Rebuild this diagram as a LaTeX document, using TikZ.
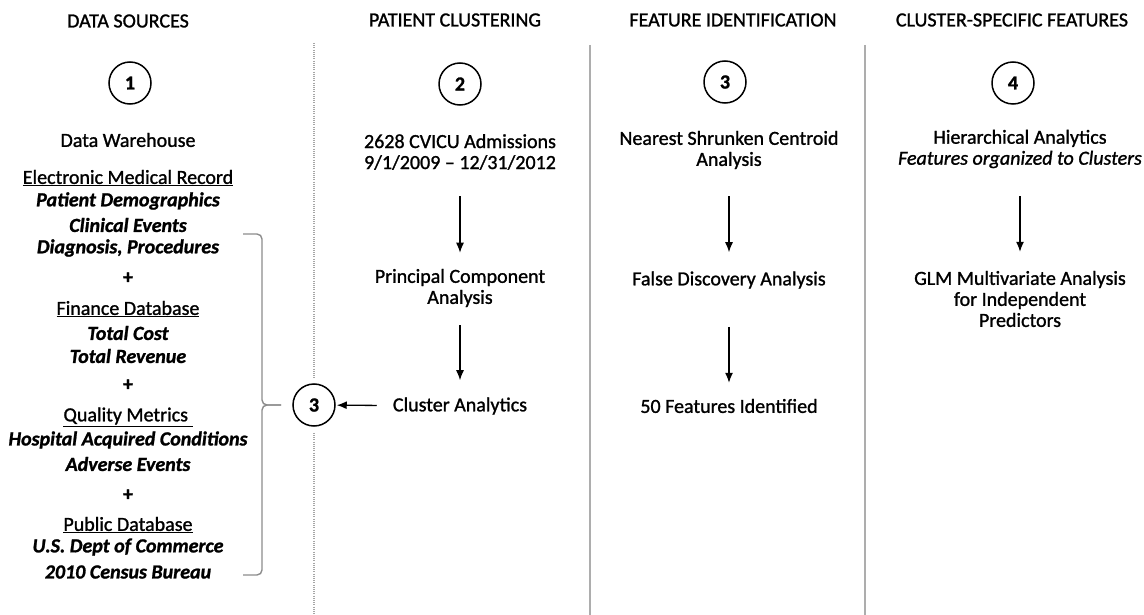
\documentclass[tikz,border=0pt]{standalone}
\usepackage{fontspec}
\setmainfont{Carlito}[FakeBold=1.2]
\usetikzlibrary{arrows.meta}

\begin{document}
\begin{tikzpicture}[x=1pt, y=-1pt, >={Latex[length=10pt, width=8pt]},
  headText/.style={inner sep=0pt, font=\fontsize{20}{21}\selectfont},
  bodyText/.style={inner sep=0pt, align=center, font=\fontsize{20}{21}\selectfont},
  srcItem/.style={inner sep=0pt, font=\fontsize{20}{21}\selectfont\bfseries\itshape},
  numCircle/.style={draw, circle, line width=1.5pt, minimum size=42pt, inner sep=0pt,
    font=\fontsize{20}{21}\selectfont\bfseries},
  flowArrow/.style={->, line width=1.3pt},
  divLine/.style={line width=1.6pt, black!32},
  braceLine/.style={line width=1.4pt, black!45, rounded corners=5pt}]

  \useasboundingbox (0,0) rectangle (1144,615);

  % --- 1. 列の x 座標 ---
  \def\colA{128}
  \def\colB{460}
  \def\colC{729}
  \def\colD{1020}

  % --- 2. 見出し ---
  \node[headText] (hA) at (\colA, 21) {DATA SOURCES};
  \node[headText] (hB) at (455, 20) {PATIENT CLUSTERING};
  \node[headText] (hC) at (733, 20) {FEATURE IDENTIFICATION};
  \node[headText] (hD) at (1012, 20) {CLUSTER-SPECIFIC FEATURES};

  % --- 3. 区切り線 ---
  \draw[divLine] (590, 45) -- (590, 615);
  \draw[divLine] (865, 45) -- (865, 615);

  % --- 4. 番号の丸 ---
  \node[numCircle] (nA) at (130, 83) {1};
  \node[numCircle] (nB) at (\colB, 84) {2};
  \node[numCircle] (nC) at (725, 82) {3};
  \node[numCircle] (nD) at (1013, 83) {4};

  % --- 5. データソース (列 1) ---
  \node[bodyText] (dw) at (\colA, 140) {Data Warehouse};
  \node[bodyText] (emr) at (\colA, 178) {\underline{Electronic Medical Record}};
  \node[srcItem] (emrA) at (\colA, 201) {Patient Demographics};
  \node[srcItem] (emrB) at (\colA, 225) {Clinical Events};
  \node[srcItem] (emrC) at (\colA, 248) {Diagnosis, Procedures};
  \node[bodyText] (plusA) at (\colA, 278) {\textbf{+}};
  \node[bodyText] (fin) at (\colA, 309) {\underline{Finance Database}};
  \node[srcItem] (finA) at (\colA, 333) {Total Cost};
  \node[srcItem] (finB) at (\colA, 356) {Total Revenue};
  \node[bodyText] (plusB) at (\colA, 385) {\textbf{+}};
  \node[bodyText] (qm) at (\colA, 417) {\underline{Quality Metrics\ }};
  \node[srcItem] (qmA) at (\colA, 440) {Hospital Acquired Conditions};
  \node[srcItem] (qmB) at (\colA, 464) {Adverse Events};
  \node[bodyText] (plusC) at (\colA, 495) {\textbf{+}};
  \node[bodyText] (pub) at (\colA, 525) {\underline{Public Database}};
  \node[srcItem] (pubA) at (\colA, 547) {U.S. Dept of Commerce};
  \node[srcItem] (pubB) at (\colA, 572) {2010 Census Bureau};

  % 括弧と丸 3
  \draw[braceLine] (243, 234) -- (262, 234) -- (262, 405) -- (281, 405);
  \draw[braceLine] (281, 405) -- (262, 405) -- (262, 575) -- (243, 575);
  \node[numCircle] (nBack) at (314, 405) {3};

  % 点線の区切り (丸 3 で途切れる)
  \coordinate (dotTop) at (314, 43);
  \coordinate (dotBot) at (314, 615);
  \draw[black!35, line width=1.2pt, dash pattern=on 1pt off 1.2pt, shorten >=4pt] (dotTop) -- (nBack);
  \draw[black!35, line width=1.2pt, dash pattern=on 1pt off 1.2pt, shorten <=6pt] (nBack) -- (dotBot);

  % --- 6. 患者クラスタリング (列 2) ---
  \node[bodyText] (adm) at (\colB, 152) {2628 CVICU Admissions\\9/1/2009 -- 12/31/2012};
  \node[bodyText] (pca) at (\colB, 288) {Principal Component\\Analysis};
  \node[bodyText] (clus) at (\colB, 406) {Cluster Analytics};
  \draw[flowArrow, shorten <=26pt, shorten >=16pt] (adm) -- (pca);
  \draw[flowArrow, shorten <=18pt, shorten >=17pt] (pca) -- (clus);
  \draw[flowArrow, shorten <=16pt, shorten >=1pt] (clus) -- (nBack);

  % --- 7. 特徴量の同定 (列 3) ---
  \node[bodyText] (nsc) at (\colC, 150) {Nearest Shrunken Centroid\\Analysis};
  \node[bodyText] (fda) at (\colC, 280) {False Discovery Analysis};
  \node[bodyText] (feat) at (\colC, 406) {50 Features Identified};
  \draw[flowArrow, shorten <=27pt, shorten >=19pt] (nsc) -- (fda);
  \draw[flowArrow, shorten <=38pt, shorten >=16pt] (fda) -- (feat);

  % --- 8. クラスタ固有の特徴量 (列 4) ---
  \node[bodyText] (hier) at (\colD, 149) {Hierarchical Analytics\\\textit{Features organized to Clusters}};
  \node[bodyText] (glm) at (\colD, 299) {GLM Multivariate Analysis\\for Independent\\Predictors};
  \draw[flowArrow, shorten <=28pt, shorten >=19pt] (hier) -- (glm);

\end{tikzpicture}
\end{document}
